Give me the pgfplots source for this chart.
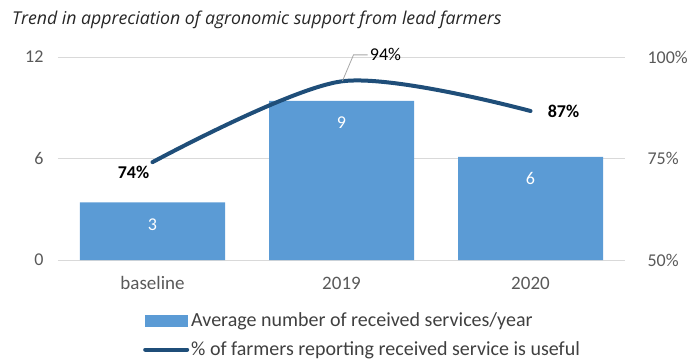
\documentclass[border=0pt]{standalone}
\usepackage{pgfplots}
\pgfplotsset{compat=1.18}
\usepackage{pgfplotstable}
\usepackage{fontspec}
\setmainfont{Carlito}
\newfontfamily\titlefont{Open Sans}
\definecolor{barblue}{HTML}{5B9BD5}
\definecolor{lineblue}{HTML}{1F4E79}
\definecolor{ticktext}{HTML}{595959}
\definecolor{legtext}{HTML}{404040}
\definecolor{gridgray}{HTML}{D9D9D9}
\pgfplotsset{/pgf/number format/assume math mode=true}
\newcommand{\lf}{\fontsize{20}{21}\selectfont}
\newcommand{\xf}{\fontsize{19}{21}\selectfont}

\pgfplotstableread{
x y lbl
0 3.4 3
1 9.4 9
2 6.1 6
}\bars

\pgfplotstableread{
x y lbl dx dy bf
0 74.1 74 -19 -10 1
1 94.0 94 44 26.5 0
2 86.7 87 33 0 1
}\share

\begin{document}
\begin{tikzpicture}
\useasboundingbox (0pt,0pt) rectangle (689pt,360pt);
\node[anchor=west, inner sep=0pt, font=\titlefont\itshape\fontsize{17.7}{21}\selectfont, text=black!85] at (12pt,340pt) {Trend in appreciation of agronomic support from lead farmers};

\begin{axis}[
  at={(58pt,100pt)}, anchor=south west,
  scale only axis, width=567pt, height=203pt,
  xmin=-0.5, xmax=2.5, ymin=0, ymax=12,
  xtick={0,1,2}, xticklabels={{\xf baseline},{\xf 2019},{\xf 2020}},
  ytick={0,6,12},
  axis line style={draw=none},
  major tick length=0pt,
  ymajorgrids, grid style={gridgray, line width=1pt},
  tick label style={font=\fontsize{18}{20}\selectfont, text=ticktext},
  yticklabel style={xshift=-11pt},
  xticklabel style={text height=12pt, text depth=3pt, yshift=-14pt},
  clip=false,
]
\addplot[ybar, bar width=145pt, fill=barblue, draw=none,
  point meta=explicit,
  nodes near coords={\pgfmathprintnumber{\pgfplotspointmeta}},
  nodes near coords align={center},
  every node near coord/.append style={anchor=center, yshift=-22pt, text=white, font=\fontsize{18}{20}\selectfont},
] table[x=x, y=y, meta=lbl] {\bars};
\end{axis}

\begin{axis}[
  at={(58pt,100pt)}, anchor=south west,
  scale only axis, width=567pt, height=203pt,
  xmin=-0.5, xmax=2.5, ymin=50, ymax=100,
  axis y line*=right, axis x line=none,
  ytick={50,75,100}, yticklabels={50\%,75\%,100\%},
  axis line style={draw=none},
  major tick length=0pt,
  tick label style={font=\fontsize{18}{20}\selectfont, text=ticktext},
  yticklabel style={xshift=19pt},
  clip=false,
  legend style={at={(axis description cs:0.1446,-0.24)}, anchor=north west, draw=none, fill=none,
    text=legtext, row sep=9.5pt},
  legend cell align=left,
]
\addlegendimage{legend image code/.code={\fill[barblue] (0pt,-5.5pt) rectangle (42pt,5.5pt);}}
\addlegendentry{\lf Average number of received services/year}
\addplot[lineblue, line width=4pt, line cap=round, smooth, mark=none,
  legend image code/.code={\draw[lineblue, line width=4pt] (0pt,0pt) -- (42pt,0pt);},
  point meta=explicit,
  visualization depends on={\thisrow{dx} \as \dx},
  visualization depends on={\thisrow{dy} \as \dy},
  visualization depends on={\thisrow{bf} \as \bfflag},
  nodes near coords={\ifdim\bfflag pt>0.5pt\bfseries\fi\pgfmathprintnumber{\pgfplotspointmeta}\%},
  nodes near coords align={center},
  every node near coord/.append style={anchor=center, xshift=\dx pt, yshift=\dy pt, text=black, font=\fontsize{18}{20}\selectfont},
] table[x=x, y=y, meta=lbl] {\share};
\addlegendentry{\lf \% of farmers reporting received service is useful}
\draw[gray!70, line width=0.8pt] (axis cs:1,94) ++(1pt,0.5pt) -- ++(11pt,26pt) -- ++(14pt,0pt);
\end{axis}
\end{tikzpicture}
\end{document}
